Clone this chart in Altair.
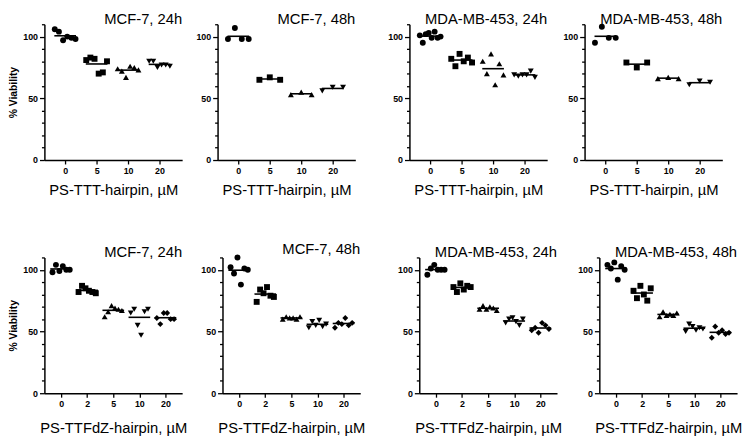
import altair as alt
import pandas as pd

FONT = "Liberation Sans"

# ---- data: top row (PS-TTT-hairpin) ----
ttt_conc = ["0", "5", "10", "20"]
mcf7_24h_ttt = [[106, 104, 97, 100, 99, 98], [81, 83, 82, 70, 71, 80],
                [74, 72, 67, 76, 75, 73], [80, 80, 75, 77, 77, 76]]
mcf7_48h_ttt = [[98, 107, 98, 98], [65, 67, 65], [53, 55, 53], [56, 59, 59]]
mda_24h_ttt = [[101, 95, 102, 103, 99, 104, 99, 100], [82, 76, 86, 80, 83, 79],
               [80, 70, 86, 61, 78, 69], [69, 68, 69, 69, 72, 67]]
mda_48h_ttt = [[95, 108, 99, 99], [79, 75, 79], [66, 67, 66], [61, 64, 63]]

# ---- data: bottom row (PS-TTFdZ-hairpin) ----
ttfdz_conc = ["0", "2", "5", "10", "20"]
mcf7_24h_ttfdz = [[98, 104, 99, 103, 100, 100], [82, 87, 85, 83, 82, 81],
                  [62, 66, 71, 69, 68, 67], [65, 68, 55, 47, 66, 68],
                  [61, 56, 65, 65, 60, 60]]
mcf7_48h_ttfdz = [[102, 97, 110, 88, 101, 100], [74, 84, 81, 86, 79, 78],
                  [60, 62, 61, 61, 60, 62], [53, 58, 55, 59, 54, 56],
                  [53, 57, 56, 61, 55, 57]]
mda_24h_ttfdz = [[96, 101, 104, 100, 100, 100], [86, 82, 89, 84, 87, 86],
                 [68, 71, 68, 70, 69, 67], [57, 60, 61, 58, 55, 60],
                 [51, 53, 49, 57, 55, 52]]
mda_48h_ttfdz = [[104, 101, 106, 92, 103, 100], [83, 77, 87, 80, 75, 85],
                 [62, 66, 63, 64, 63, 65], [50, 56, 54, 51, 53, 52],
                 [45, 54, 49, 51, 48, 49]]

shapes = ["circle", "square", "triangle-up", "triangle-down", "diamond"]


def panel(title, conc, groups, xtitle, ytitle, xdom, spread, title_pad,
          width=140, height=138):
    rows = []
    for k, (c, vals) in enumerate(zip(conc, groups)):
        n = len(vals)
        for i, v in enumerate(vals):
            frac = (i - (n - 1) / 2) / max(n - 1, 1)
            rows.append({"conc": c, "idx": k, "pos": k + frac * spread, "value": v,
                         "shp": shapes[k]})
    df = pd.DataFrame(rows)
    n = len(conc)
    label_arr = "[" + ",".join("'%s'" % c for c in conc) + "]"
    xscale = alt.Scale(domain=xdom, nice=False, zero=False)
    xaxis = alt.Axis(values=list(range(n)), labelExpr=label_arr + "[datum.value]",
                     labelAngle=0, labelFont=FONT, labelFontSize=9, labelFontWeight="bold",
                     labelColor="black", tickColor="black", tickSize=4, tickWidth=1.3,
                     domainColor="black", domainWidth=1.5, titleFont=FONT, titleFontSize=15,
                     titleFontWeight="normal", titleColor="black", titlePadding=title_pad,
                     labelPadding=3, grid=False)
    yaxis = alt.Axis(values=list(range(0, 111, 10)),
                     labelExpr="datum.value % 50 === 0 ? datum.label : ''",
                     tickSize={"condition": {"test": "datum.value % 50 === 0", "value": 5}, "value": 3},
                     labelFont=FONT, labelFontSize=9, labelFontWeight="bold", labelColor="black",
                     tickColor="black", tickWidth=1.3, domainColor="black", domainWidth=1.5,
                     grid=False, titleFont=FONT, titleFontSize=10.5, titleFontWeight="bold",
                     titleColor="black", titlePadding=4, labelPadding=2)
    yscale = alt.Scale(domain=[0, 110], nice=False, zero=True)
    ykw = {"title": ytitle} if ytitle else {"title": None}
    pts = alt.Chart(df).mark_point(filled=True, color="black", size=36, opacity=1).encode(
        x=alt.X("pos:Q", scale=xscale, axis=xaxis, title=xtitle),
        y=alt.Y("value:Q", scale=yscale, axis=yaxis, **ykw),
        shape=alt.Shape("shp:N", scale=None),
    )
    mean = alt.Chart(df).mark_tick(color="black", thickness=1.6, size=22, opacity=1,
                                   orient="horizontal").encode(
        x=alt.X("idx:Q", scale=xscale, axis=xaxis, title=xtitle),
        y=alt.Y("mean(value):Q", scale=yscale, axis=yaxis, **ykw),
    )
    return alt.layer(pts, mean).properties(
        width=width, height=height,
        title=alt.TitleParams(title, anchor="end", frame="group", font=FONT, fontSize=15,
                              fontWeight="normal", color="black", offset=-3),
    )


tx = "PS-TTT-hairpin, µM"
bx = "PS-TTFdZ-hairpin, µM"
tdom = [-0.66, 3.72]
bdom = [-0.64, 4.64]

p1 = panel("MCF-7, 24h", ttt_conc, mcf7_24h_ttt, tx, "% Viability", tdom, 0.66, 7)
p2 = panel("MCF-7, 48h", ttt_conc, mcf7_48h_ttt, tx, None, tdom, 0.66, 7)
p3 = panel("MDA-MB-453, 24h", ttt_conc, mda_24h_ttt, tx, None, tdom, 0.66, 7)
p4 = panel("MDA-MB-453, 48h", ttt_conc, mda_48h_ttt, tx, None, tdom, 0.66, 7)

p5 = panel("MCF-7, 24h", ttfdz_conc, mcf7_24h_ttfdz, bx, "% Viability", bdom, 0.66, 12)
p6 = panel("MCF-7, 48h", ttfdz_conc, mcf7_48h_ttfdz, bx, None, bdom, 0.66, 12)
p7 = panel("MDA-MB-453, 24h", ttfdz_conc, mda_24h_ttfdz, bx, None, bdom, 0.66, 12)
p8 = panel("MDA-MB-453, 48h", ttfdz_conc, mda_48h_ttfdz, bx, None, bdom, 0.66, 12)

top = alt.hconcat(alt.hconcat(p1, p2, spacing=13), alt.hconcat(p3, p4, spacing=15), spacing=32)
bottom = alt.hconcat(alt.hconcat(p5, p6, spacing=13), alt.hconcat(p7, p8, spacing=15), spacing=32)

chart = alt.vconcat(top, bottom, spacing=46).properties(padding=0).configure_view(stroke=None)

chart.save("out.html", embed_options={"renderer": "svg", "actions": False})
